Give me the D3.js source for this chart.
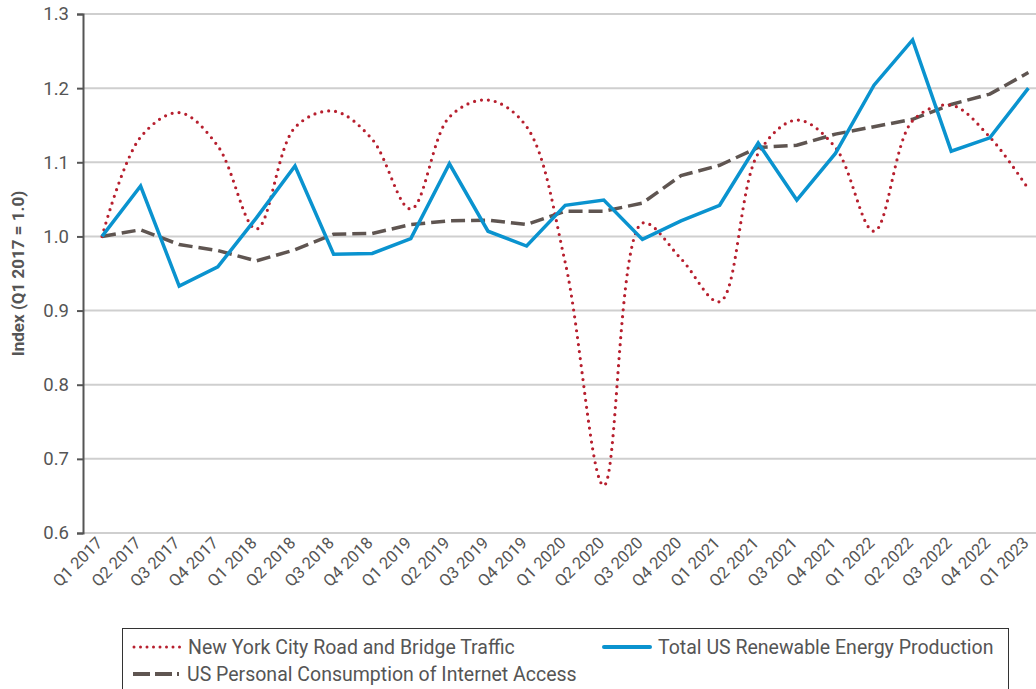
<!DOCTYPE html>
<html lang="en">
<head>
<meta charset="utf-8">
<script src="https://cdn.jsdelivr.net/npm/d3@7"></script>
<style>
  body { margin: 0; background: #fff; }
  text { font-family: Roboto, "Noto Sans", sans-serif; }
</style>
</head>
<body>
<script>
var quarters = ["Q1 2017","Q2 2017","Q3 2017","Q4 2017","Q1 2018","Q2 2018","Q3 2018","Q4 2018",
  "Q1 2019","Q2 2019","Q3 2019","Q4 2019","Q1 2020","Q2 2020","Q3 2020","Q4 2020",
  "Q1 2021","Q2 2021","Q3 2021","Q4 2021","Q1 2022","Q2 2022","Q3 2022","Q4 2022","Q1 2023"];

var nycTraffic = [1.000,1.134,1.167,1.122,1.010,1.147,1.169,1.131,1.037,1.161,1.184,1.148,
  0.965,0.664,1.018,0.970,0.912,1.112,1.157,1.120,1.007,1.156,1.177,1.134,1.064];

var renewable = [1.000,1.068,0.933,0.959,1.025,1.095,0.976,0.977,0.997,1.098,1.007,0.987,
  1.042,1.049,0.996,1.021,1.042,1.126,1.049,1.112,1.204,1.265,1.115,1.133,1.200];

var internet = [1.000,1.009,0.989,0.981,0.967,0.982,1.003,1.004,1.016,1.021,1.022,1.016,
  1.034,1.034,1.045,1.082,1.096,1.120,1.123,1.138,1.148,1.158,1.178,1.192,1.221];

var yTicks = [0.6,0.7,0.8,0.9,1.0,1.1,1.2,1.3];

var width = 1036, height = 689;
var plotLeft = 83, plotRight = 1036, plotTop = 14, plotBottom = 533;

var svg = d3.select("body").append("svg")
  .attr("width", width)
  .attr("height", height);

var x = d3.scalePoint().domain(quarters).range([102, 1028.4]);
var y = d3.scaleLinear().domain([0.6, 1.3]).range([plotBottom, plotTop]);

// gridlines
svg.append("g")
  .selectAll("line")
  .data(yTicks)
  .enter().append("line")
  .attr("x1", plotLeft)
  .attr("x2", plotRight)
  .attr("y1", function(d) { return y(d); })
  .attr("y2", function(d) { return y(d); })
  .attr("stroke", "#cfcfcf")
  .attr("stroke-width", 2);

// y axis
var yAxis = svg.append("g")
  .attr("transform", "translate(" + plotLeft + ",0)")
  .call(d3.axisLeft(y).tickValues(yTicks).tickFormat(d3.format(".1f")).tickSize(6).tickPadding(8));
yAxis.select(".domain").attr("stroke", "#555").attr("stroke-width", 2);
yAxis.selectAll(".tick line").attr("stroke", "#555").attr("stroke-width", 2);
yAxis.selectAll(".tick text")
  .attr("fill", "#555")
  .style("font-size", "18.5px");

// x axis labels
var xAxis = svg.append("g")
  .attr("transform", "translate(0," + plotBottom + ")")
  .call(d3.axisBottom(x).tickSize(0).tickPadding(0));
xAxis.select(".domain").remove();
xAxis.selectAll(".tick text")
  .attr("fill", "#555")
  .style("font-size", "16.5px")
  .attr("text-anchor", "end")
  .attr("dy", null)
  .attr("y", 0)
  .attr("transform", "translate(1,11) rotate(-45)");

// y label
svg.append("text")
  .attr("transform", "translate(24," + ((plotTop + plotBottom) / 2) + ") rotate(-90)")
  .attr("text-anchor", "middle")
  .attr("fill", "#555")
  .style("font-size", "17px")
  .style("font-weight", "bold")
  .text("Index (Q1 2017 = 1.0)");

function lineOf(values, curve) {
  return d3.line()
    .x(function(d, i) { return x(quarters[i]); })
    .y(function(d) { return y(d); })
    .curve(curve)(values);
}

svg.append("path")
  .attr("d", lineOf(internet, d3.curveLinear))
  .attr("fill", "none")
  .attr("stroke", "#5f5551")
  .attr("stroke-width", 3.5)
  .attr("stroke-dasharray", "14,6");

svg.append("path")
  .attr("d", lineOf(nycTraffic, d3.curveCatmullRom.alpha(0.5)))
  .attr("fill", "none")
  .attr("stroke", "#b71f2e")
  .attr("stroke-width", 3.2)
  .attr("stroke-linecap", "round")
  .attr("stroke-dasharray", "0,7");

svg.append("path")
  .attr("d", lineOf(renewable, d3.curveLinear))
  .attr("fill", "none")
  .attr("stroke", "#0a93cf")
  .attr("stroke-width", 3.5);

// legend
var legend = svg.append("g");
legend.append("rect")
  .attr("x", 122.5)
  .attr("y", 628.5)
  .attr("width", 886)
  .attr("height", 80)
  .attr("fill", "none")
  .attr("stroke", "#333")
  .attr("stroke-width", 1);

var legendItems = [
  {name: "New York City Road and Bridge Traffic", color: "#b71f2e", dash: "0,6.5", cap: "round", w: 3, x: 134, y: 647},
  {name: "Total US Renewable Energy Production", color: "#0a93cf", dash: null, cap: "round", w: 4, x: 604, y: 647},
  {name: "US Personal Consumption of Internet Access", color: "#5f5551", dash: "17,5", cap: "butt", w: 4, x: 133, y: 674}
];

var li = legend.selectAll(".legend")
  .data(legendItems)
  .enter().append("g")
  .attr("class", "legend")
  .attr("transform", function(d) { return "translate(" + d.x + "," + d.y + ")"; });

li.append("line")
  .attr("x1", 0)
  .attr("x2", 46)
  .attr("stroke", function(d) { return d.color; })
  .attr("stroke-width", function(d) { return d.w; })
  .attr("stroke-linecap", function(d) { return d.cap; })
  .attr("stroke-dasharray", function(d) { return d.dash; });

li.append("text")
  .attr("x", 54)
  .attr("dy", "0.35em")
  .attr("fill", "#555")
  .style("font-size", "19.5px")
  .text(function(d) { return d.name; });
</script>
</body>
</html>
